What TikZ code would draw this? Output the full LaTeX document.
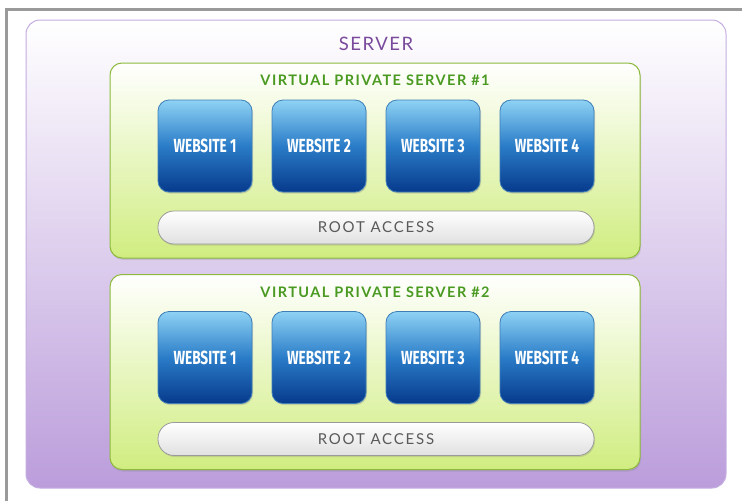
\documentclass[tikz,border=0pt]{standalone}
\usepackage{fontspec}
\setmainfont{Lato}
\newfontfamily\webfont[FakeStretch=0.72]{Fira Sans}
\usetikzlibrary{shadows}
\definecolor{frame}{HTML}{9A9A9A}
\definecolor{srvborder}{HTML}{C4AEE0}
\definecolor{srvbot}{HTML}{BB9DDB}
\definecolor{srvtext}{HTML}{7A4B9C}
\definecolor{vpsborder}{HTML}{8DBA3C}
\definecolor{vpsbot}{HTML}{D0ED80}
\definecolor{vpstext}{HTML}{4A9A22}
\definecolor{webtop}{HTML}{8ED2F4}
\definecolor{webmid}{HTML}{2A7CC8}
\definecolor{webbot}{HTML}{073A8C}
\definecolor{webborder}{HTML}{3F7FB8}
\definecolor{rootborder}{HTML}{9A9A9A}
\definecolor{roottext}{HTML}{5A5A5A}
\tikzset{
  x=1pt, y=-1pt,
  serverbox/.style={draw=srvborder, line width=1pt, rounded corners=14pt, top color=white, bottom color=srvbot, shading angle=0},
  vpsbox/.style={draw=vpsborder, line width=1pt, rounded corners=12pt, top color=white, bottom color=vpsbot,
     drop shadow={shadow xshift=1pt, shadow yshift=-2pt, opacity=0.25}},
  webbox/.style={draw=webborder, line width=0.8pt, rounded corners=11pt, top color=webtop, bottom color=webbot, middle color=webmid,
     minimum width=94pt, minimum height=92pt, inner sep=0pt, text=white, font=\webfont\bfseries\fontsize{19}{19}\selectfont,
     drop shadow={shadow xshift=1pt, shadow yshift=-1.5pt, opacity=0.3}},
  rootbox/.style={draw=rootborder, line width=0.8pt, rounded corners=16pt, top color=white, bottom color=black!12,
     minimum width=436pt, minimum height=33pt, inner sep=0pt, text=roottext, font=\fontsize{15}{15}\selectfont,
     drop shadow={shadow xshift=1pt, shadow yshift=-1.5pt, opacity=0.25}},
  srvtitle/.style={text=srvtext, font=\fontsize{18.5}{18.5}\selectfont},
  vpstitle/.style={text=vpstext, font=\bfseries\fontsize{14.5}{14.5}\selectfont},
}
\begin{document}
\begin{tikzpicture}
\useasboundingbox (0,0) rectangle (742,501);
\fill[white] (0,0) rectangle (742,501);
% gray frame
\draw[frame, line width=3pt] (742,9) -- (6,9) -- (6,501);
% server
\path[serverbox] (26,20) rectangle (726,488);
\node[srvtitle] (srv) at (376,44) {\addfontfeatures{LetterSpace=8}SERVER};
% VPS boxes
\foreach \v/\yo in {1/0,2/211.5}{
  \path[vpsbox] (110,63+\yo) rectangle (640,258+\yo);
  \node[vpstitle] (vps\v) at (375,80.5+\yo) {\addfontfeatures{LetterSpace=10}VIRTUAL PRIVATE SERVER \#\v};
  \foreach \w/\x in {1/205,2/319,3/433,4/547}{
    \node[webbox] (web\v\w) at (\x,146+\yo) {WEBSITE \w};
  }
  \node[rootbox] (root\v) at (376,227.5+\yo) {\addfontfeatures{LetterSpace=12}ROOT ACCESS};
}
\end{tikzpicture}
\end{document}
